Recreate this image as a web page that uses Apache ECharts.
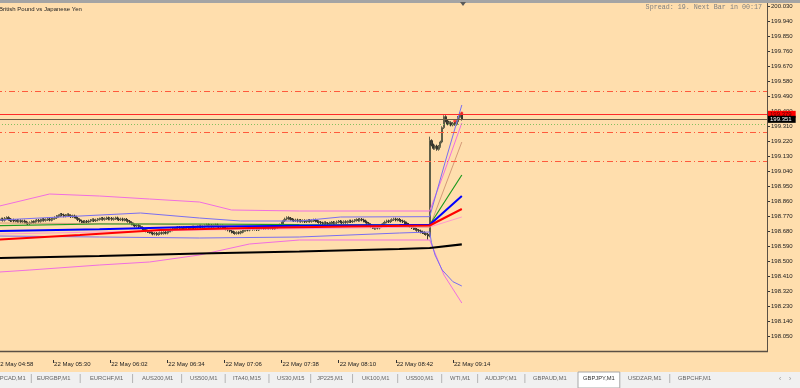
<!DOCTYPE html>
<html><head><meta charset="utf-8">
<script src="https://cdn.jsdelivr.net/npm/echarts@6/dist/echarts.min.js"></script>
<style>html,body{margin:0;padding:0;background:#FFDEAD;overflow:hidden}#c{width:800px;height:388px}</style>
</head><body><div id="c"></div>
<script>
// ---------- data ----------
const dayLabel = '22 May';
const startHour = 4, startMin = 58;            // category 0 = 04:58
const categoryCount = 433;                     // 04:58 .. future empty space
const firstBar = 2;                            // first visible bar (05:00)
const timeTicks = ['22 May 04:58','22 May 05:30','22 May 06:02','22 May 06:34','22 May 07:06','22 May 07:38','22 May 08:10','22 May 08:42','22 May 09:14'];

const closes = [
198.748,198.752,198.745,198.756,198.760,198.750,198.742,198.746,198.740,198.744,
198.738,198.742,198.735,198.740,198.733,198.728,198.724,198.730,198.736,198.732,
198.740,198.744,198.738,198.746,198.750,198.744,198.748,198.752,198.746,198.750,
198.755,198.760,198.768,198.772,198.780,198.776,198.770,198.774,198.778,198.772,
198.766,198.770,198.764,198.756,198.748,198.740,198.736,198.732,198.738,198.734,
198.740,198.744,198.748,198.742,198.746,198.750,198.752,198.756,198.750,198.754,
198.758,198.752,198.756,198.750,198.754,198.758,198.752,198.748,198.752,198.746,
198.750,198.744,198.738,198.730,198.722,198.716,198.710,198.714,198.706,198.700,
198.694,198.688,198.680,198.676,198.672,198.668,198.662,198.666,198.660,198.664,
198.670,198.666,198.672,198.668,198.674,198.680,198.686,198.690,198.694,198.698,
198.702,198.696,198.700,198.694,198.698,198.702,198.696,198.700,198.704,198.698,
198.702,198.706,198.710,198.704,198.708,198.712,198.716,198.710,198.714,198.708,
198.712,198.716,198.710,198.706,198.710,198.704,198.698,198.692,198.686,198.680,
198.674,198.670,198.666,198.670,198.668,198.674,198.678,198.684,198.690,198.686,
198.692,198.696,198.690,198.694,198.688,198.692,198.696,198.700,198.694,198.698,
198.702,198.696,198.700,198.694,198.698,198.702,198.708,198.716,198.728,198.742,
198.752,198.760,198.756,198.750,198.746,198.742,198.746,198.740,198.744,198.738,
198.742,198.736,198.740,198.744,198.738,198.742,198.746,198.740,198.736,198.732,
198.728,198.724,198.730,198.726,198.722,198.728,198.732,198.726,198.730,198.734,
198.738,198.734,198.730,198.736,198.732,198.736,198.740,198.736,198.740,198.744,
198.748,198.744,198.750,198.746,198.740,198.734,198.726,198.718,198.708,198.700,
198.696,198.702,198.698,198.706,198.716,198.726,198.734,198.740,198.736,198.742,
198.748,198.752,198.746,198.750,198.744,198.740,198.736,198.728,198.720,198.712,
198.706,198.700,198.694,198.690,198.684,198.680,198.674,198.670,198.664,198.660,
198.650,199.222,199.196,199.176,199.190,199.170,199.188,199.214,199.300,199.366,
199.340,199.322,199.330,199.316,199.326,199.320,199.336,199.362,199.384,199.351
];
const firstOpen = 198.744;
const wick = 0.008;
const barExtremes = {242:{low:198.628}, 243:{high:199.246}};

// indicator lines: [minute index, price]
const maBlack = [[2,198.518],[58,198.530],[114,198.545],[170,198.557],[226,198.572],[243,198.578],[261,198.600]];
const maRed   = [[2,198.629],[47,198.656],[92,198.686],[142,198.698],[198,198.707],[243,198.713],[261,198.812]];
const maBlue  = [[2,198.680],[58,198.690],[114,198.705],[170,198.712],[226,198.716],[243,198.718],[261,198.890]];
const maGreen = [[2,198.712],[58,198.722],[114,198.722],[170,198.718],[226,198.716],[243,198.716],[261,199.016]];
const maTan   = [[2,198.728],[86,198.722],[142,198.710],[198,198.710],[243,198.704],[261,199.214]];
const maPink  = [[2,198.662],[114,198.686],[243,198.704],[261,198.764]];
const bandBlueUp = [[2,198.746],[36,198.764],[81,198.788],[114,198.758],[137,198.740],[170,198.740],[193,198.764],[243,198.766],[252,199.106],[261,199.436]];
const bandBlueLo = [[2,198.650],[58,198.644],[114,198.638],[170,198.644],[226,198.668],[243,198.674],[244,198.610],[246,198.536],[250,198.446],[256,198.376],[261,198.350]];
const bandPinkUp = [[2,198.830],[30,198.902],[58,198.890],[86,198.872],[114,198.854],[132,198.806],[170,198.800],[243,198.800],[251,199.028],[261,199.328]];
const bandPinkLo = [[2,198.434],[19,198.446],[58,198.476],[86,198.494],[114,198.536],[142,198.602],[170,198.626],[243,198.626],[251,198.416],[261,198.248]];
const tradeMarks = [[257,199.340],[261,199.388]];

const dashDotLevels = [199.520, 199.268, 199.100];
const askPrice = 199.379, bidPrice = 199.351, dottedLevel = 199.322, ghostLevel = 198.848;

const yMin = 197.96, yMax = 200.03, yStep = 0.09;

const symbolTitle = 'British Pound vs Japanese Yen';
const spreadText = 'Spread: 19. Next Bar in 00:17';
const tabs = ['BPCAD,M1','EURGBP,M1','EURCHF,M1','AUS200,M1','US500,M1','ITA40,M15','US30,M15','JP225,M1','UK100,M1','US500,M1','WTI,M1','AUDJPY,M1','GBPAUD,M1','GBPJPY,M1','USDZAR,M1','GBPCHF,M1'];
const tabStarts = [-4,37,90,142,190,233,277,317,362,406,450,485,533,583,628,678];
const activeTab = 'GBPJPY,M1';

// ---------- build ----------
const pad = n => (n < 10 ? '0' : '') + n;
const categories = [];
for (let i = 0; i < categoryCount; i++) {
  const t = startHour * 60 + startMin + i;
  categories.push(dayLabel + ' ' + pad(Math.floor(t / 60) % 24) + ':' + pad(t % 60));
}
const candles = closes.map((c, i) => {
  const m = firstBar + i;
  const o = i === 0 ? firstOpen : closes[i - 1];
  let hi = Math.max(o, c) + wick, lo = Math.min(o, c) - wick;
  if (barExtremes[m]) { if (barExtremes[m].high) hi = barExtremes[m].high; if (barExtremes[m].low) lo = barExtremes[m].low; }
  return [m, o, c, lo, hi];
});

const FONT = 'Liberation Sans, Arial, sans-serif';
const tickShow = (idx, val) => timeTicks.indexOf(val) >= 0;

function line(data, color, width) {
  return { type: 'line', data: data, showSymbol: false, symbol: 'none', silent: true,
    lineStyle: { color: color, width: width }, z: 3 };
}

const markData = [];
dashDotLevels.forEach(v => markData.push({ yAxis: v, lineStyle: { color: '#ff5a3c', width: 1, type: [6, 3, 1, 3] }, label: { show: false } }));
markData.push({ yAxis: dottedLevel, lineStyle: { color: '#86c060', width: 1, type: [1, 2] }, label: { show: false } });
markData.push({ yAxis: ghostLevel, lineStyle: { opacity: 0 }, label: { show: true, position: 'end', distance: 2, formatter: '198.860',
  backgroundColor: 'rgba(250,246,240,0.85)', color: '#c4bcb4', fontSize: 6, fontFamily: FONT, padding: [1, 3, 1, 2], lineHeight: 6 } });
markData.push({ yAxis: askPrice, lineStyle: { color: '#ff2a2a', width: 1, type: 'solid' }, label: { show: true, position: 'end', distance: 1,
  formatter: askPrice.toFixed(3), backgroundColor: '#ff0000', color: '#5a0000', fontSize: 6, fontFamily: FONT, padding: [1, 4, 0, 2], lineHeight: 6 } });
markData.push({ yAxis: bidPrice, lineStyle: { color: '#6e5e44', width: 1, type: 'solid' }, label: { show: true, position: 'end', distance: 1,
  formatter: bidPrice.toFixed(3), backgroundColor: '#000000', color: '#ffffff', fontSize: 6, fontFamily: FONT, padding: [1, 4, 0, 2], lineHeight: 6 } });

const series = [
  { type: 'candlestick', data: candles, encode: { x: 0, y: [1, 2, 3, 4] }, barWidth: 1.6, silent: true, z: 2,
    itemStyle: { color: '#8c8c66', color0: '#45453a', borderColor: '#5e5e48', borderColor0: '#36362c', borderWidth: 1 } },
  line(bandPinkUp, '#f06ee0', 1),
  line(bandPinkLo, '#f06ee0', 1),
  line(bandBlueUp, '#7a6ef0', 1),
  line(bandBlueLo, '#7a6ef0', 1),
  line(maPink, '#ff99cc', 1),
  line(maTan, '#d49a78', 1),
  line(maGreen, '#1f9a1f', 1.2),
  line(maBlue, '#0000ff', 2),
  line(maRed, '#ff0000', 2),
  Object.assign(line(maBlack, '#000000', 2.2), { markLine: { symbol: ['none', 'none'], silent: true, animation: false, data: markData } }),
  { type: 'scatter', data: tradeMarks, symbol: 'circle', symbolSize: 3, itemStyle: { color: '#ff2020' }, silent: true, z: 4 }
];

// UI graphics (frame, titles, tab bar)
const g = [];
g.push({ type: 'rect', shape: { x: 0, y: 0, width: 800, height: 3 }, style: { fill: '#a4a4a4' }, z: 100 });
g.push({ type: 'polygon', shape: { points: [[460, 2], [466, 2], [463, 6]] }, style: { fill: '#5a5a5a' }, z: 101 });
g.push({ type: 'line', shape: { x1: 767.5, y1: 3, x2: 767.5, y2: 352 }, style: { stroke: '#5a5045', lineWidth: 1 }, z: 100 });
g.push({ type: 'line', shape: { x1: 0, y1: 351.5, x2: 768, y2: 351.5 }, style: { stroke: '#5a5045', lineWidth: 1.5 }, z: 100 });
g.push({ type: 'text', x: -1, y: 9, style: { text: symbolTitle, fill: '#222', font: '6px ' + FONT, verticalAlign: 'middle', align: 'left' }, z: 100 });
g.push({ type: 'text', x: 762, y: 7.5, style: { text: spreadText, fill: '#808080', font: '6.7px Liberation Mono, Courier New, monospace', verticalAlign: 'middle', align: 'right' }, z: 100 });
g.push({ type: 'rect', shape: { x: 0, y: 372, width: 800, height: 16 }, style: { fill: '#f0f0f0' }, z: 100 });
const mctx = document.createElement('canvas').getContext('2d');
mctx.font = '5.8px ' + FONT;
tabs.forEach((t, i) => {
  const x = tabStarts[i];
  const w = mctx.measureText(t).width;
  if (t === activeTab) {
    g.push({ type: 'rect', shape: { x: x - 5, y: 372, width: w + 10, height: 16 }, style: { fill: '#ffffff', stroke: '#a8a8a8', lineWidth: 1 }, z: 101 });
  }
  g.push({ type: 'text', x: x, y: 378.5, style: { text: t, fill: t === activeTab ? '#333' : '#666', font: '5.8px ' + FONT, verticalAlign: 'middle', align: 'left' }, z: 102 });
  if (i < tabs.length - 1 && t !== activeTab && tabs[i + 1] !== activeTab) {
    const sx = (x + w + tabStarts[i + 1]) / 2;
    g.push({ type: 'line', shape: { x1: sx, y1: 374, x2: sx, y2: 383 }, style: { stroke: '#b4b4b4', lineWidth: 1 }, z: 101 });
  }
});
g.push({ type: 'text', x: 780, y: 378.5, style: { text: '\u2039', fill: '#a0a0a0', font: '8px ' + FONT, verticalAlign: 'middle', align: 'center' }, z: 102 });
g.push({ type: 'text', x: 790, y: 378.5, style: { text: '\u203a', fill: '#a0a0a0', font: '8px ' + FONT, verticalAlign: 'middle', align: 'center' }, z: 102 });

const chart = echarts.init(document.getElementById('c'), null, { renderer: 'canvas' });
chart.setOption({
  animation: false,
  backgroundColor: '#FFDEAD',
  grid: { left: -4, right: 33, top: 6, bottom: 37, containLabel: false, outerBoundsMode: 'none' },
  xAxis: {
    type: 'category', data: categories, boundaryGap: false, offset: 9,
    axisLine: { show: false },
    axisTick: { show: true, interval: tickShow, length: 3, lineStyle: { color: '#333', width: 1 } },
    axisLabel: { interval: tickShow, align: 'left', verticalAlign: 'top', margin: 1, padding: [0, 0, 0, 1], fontSize: 6, fontFamily: FONT, color: '#222', hideOverlap: false },
    splitLine: { show: false }
  },
  yAxis: {
    type: 'value', position: 'right', min: yMin, max: yMax, interval: yStep,
    axisLine: { show: false },
    axisTick: { show: true, length: 3, lineStyle: { color: '#333' } },
    axisLabel: { fontSize: 6, fontFamily: FONT, color: '#222', margin: 4, showMinLabel: false, showMaxLabel: true, formatter: v => v.toFixed(3) },
    splitLine: { show: false }
  },
  series: series,
  graphic: g
});
</script></body></html>
